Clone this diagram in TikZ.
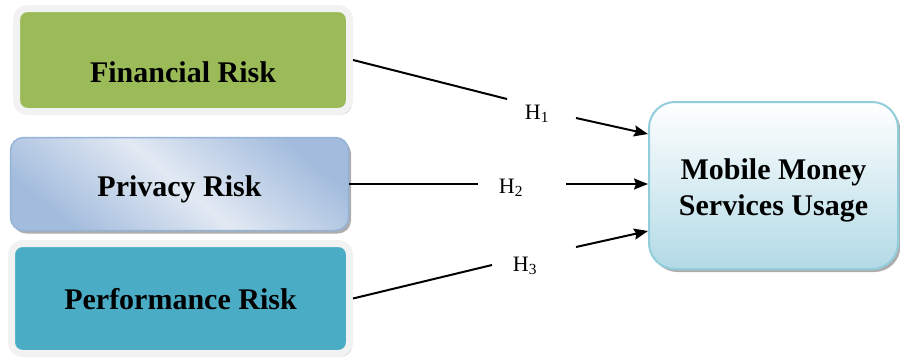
\documentclass[tikz,border=0pt]{standalone}
\usepackage{fontspec}
\setmainfont{Liberation Serif}
\usetikzlibrary{arrows.meta,shadows}
\definecolor{fingreen}{HTML}{9BBB59}
\definecolor{perfteal}{HTML}{4BACC6}
\definecolor{rimwhite}{HTML}{F2F2F2}
\definecolor{privborder}{HTML}{95B3D7}
\definecolor{privlight}{HTML}{E2E9F3}
\definecolor{privdark}{HTML}{A3BCDD}
\definecolor{mmborder}{HTML}{92CDDC}
\definecolor{mmbottom}{HTML}{B2DAE6}
\tikzset{
  boxtext/.style={font=\fontsize{30}{36}\selectfont\bfseries, align=center, inner sep=0pt},
  rimbox/.style={boxtext, draw=rimwhite, line width=7pt, rounded corners=11pt,
     drop shadow={shadow xshift=2.5pt, shadow yshift=-3pt, fill=black!40, opacity=0.8}},
  privbox/.style={boxtext, draw=privborder, line width=1.5pt, rounded corners=13pt,
     top color=privdark, bottom color=privdark, middle color=privlight, shading angle=-40,
     drop shadow={shadow xshift=2.5pt, shadow yshift=-3pt, fill=black!40, opacity=0.8}},
  mmbox/.style={boxtext, draw=mmborder, line width=2pt, rounded corners=26pt,
     top color=white, bottom color=mmbottom,
     drop shadow={shadow xshift=2.5pt, shadow yshift=-3pt, fill=black!40, opacity=0.8}},
  hlabel/.style={font=\fontsize{22}{26}\selectfont, inner sep=0pt},
  link/.style={line width=2pt, black},
  arrowlink/.style={link, -{Stealth[length=14pt,width=11pt,inset=2pt]}}
}
\begin{document}
\begin{tikzpicture}[x=1pt,y=-1pt]
\useasboundingbox (0,0) rectangle (900,362);
\node[rimbox, fill=fingreen, minimum width=333pt, minimum height=103pt, text height=45pt, text depth=0pt] (fin) at (183,60) {Financial Risk};
\node[privbox, minimum width=338pt, minimum height=93pt, text height=24pt, text depth=0pt] (priv) at (179.5,184) {Privacy Risk};
\node[rimbox, fill=perfteal, minimum width=338pt, minimum height=110pt, text height=21pt, text depth=0pt] (perf) at (180.5,298.5) {Performance Risk};
\node[mmbox, minimum width=249pt, minimum height=167pt, text height=65pt, text depth=6pt] (mm) at (773.5,185.5) {Mobile Money\\Services Usage};

\node[hlabel] (h1) at (537,114) {H\textsubscript{1}};
\node[hlabel] (h2) at (511,188) {H\textsubscript{2}};
\node[hlabel] (h3) at (525,266) {H\textsubscript{3}};

\coordinate (g1a) at (507,99);
\coordinate (g1b) at (576,118);
\coordinate (g2a) at (478,184);
\coordinate (g2b) at (566,184);
\coordinate (g3a) at (492,265);
\coordinate (g3b) at (576,247);
\coordinate (t1) at ([yshift=51.5pt]mm.west);
\coordinate (t2) at ([yshift=1.5pt]mm.west);
\coordinate (t3) at ([yshift=-45.5pt]mm.west);

\draw[link] (fin.east) -- (g1a);
\draw[arrowlink] (g1b) -- (t1);
\draw[link] (priv.east) -- (g2a);
\draw[arrowlink] (g2b) -- (t2);
\draw[link] (perf.east) -- (g3a);
\draw[arrowlink] (g3b) -- (t3);
\end{tikzpicture}
\end{document}
